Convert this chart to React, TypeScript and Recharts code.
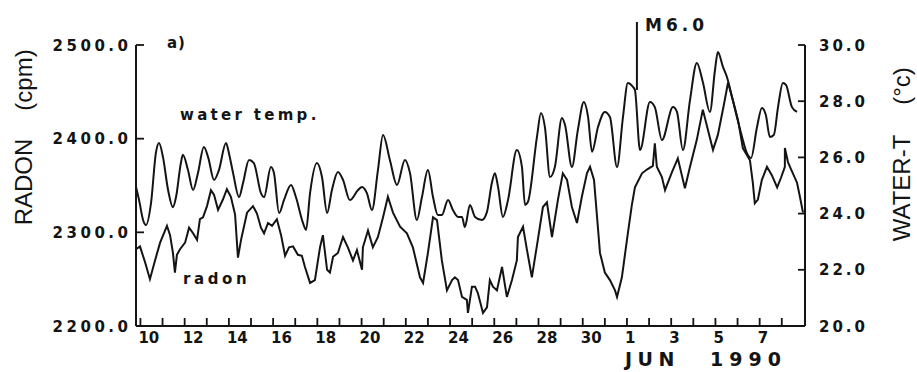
import { LineChart, Line, XAxis, YAxis, ReferenceLine } from 'recharts'

// [day, °C] — days counted from 1 May 1990, so June 1 = 32
const waterTemp: [number, number][] = [
  [9.8, 24.95], [9.94, 24.48], [10.12, 23.77], [10.25, 23.59], [10.48, 24.38], [10.7, 26.16], [10.84, 26.51],
  [11.02, 26.01], [11.25, 24.84], [11.47, 24.23], [11.61, 24.59], [11.83, 25.8], [11.92, 26.09], [12.15, 25.55],
  [12.38, 24.84], [12.6, 25.44], [12.87, 26.37], [13.06, 26.01], [13.33, 25.2], [13.55, 25.55], [13.87, 26.51],
  [14.0, 26.16], [14.19, 25.44], [14.46, 24.59], [14.64, 25.09], [14.91, 25.91], [15.13, 25.8], [15.45, 24.73],
  [15.59, 24.59], [15.9, 25.66], [16.04, 25.44], [16.27, 24.02], [16.49, 24.48], [16.81, 25.02], [17.03, 24.59],
  [17.35, 23.67], [17.49, 23.42], [17.67, 24.73], [17.98, 25.8], [18.21, 25.3], [18.44, 24.02], [18.66, 24.84],
  [18.93, 25.48], [19.16, 25.2], [19.47, 24.48], [19.84, 24.84], [20.02, 24.95], [20.24, 24.73], [20.47, 24.13],
  [20.74, 25.55], [20.97, 26.8], [21.28, 25.91], [21.6, 25.02], [21.96, 25.91], [22.19, 25.44], [22.5, 23.77],
  [22.73, 24.59], [23.0, 25.55], [23.23, 24.59], [23.45, 23.95], [23.63, 23.95], [23.91, 24.48], [24.13, 24.13],
  [24.36, 23.88], [24.54, 23.88], [24.67, 23.52], [24.9, 24.31], [25.13, 23.88], [25.44, 23.77], [25.67, 24.06],
  [25.89, 25.09], [26.03, 25.44], [26.17, 24.95], [26.39, 23.88], [26.62, 24.48], [27.02, 26.26], [27.25, 25.66],
  [27.39, 24.31], [27.52, 24.41], [27.93, 26.73], [28.11, 27.58], [28.29, 27.08], [28.52, 25.3], [28.74, 25.66],
  [29.06, 27.4], [29.2, 27.15], [29.51, 25.66], [29.78, 26.98], [30.05, 27.97], [30.24, 27.44], [30.42, 26.2],
  [30.69, 27.08], [31.0, 27.62], [31.23, 27.44], [31.55, 25.66], [31.82, 27.44], [32.04, 28.65], [32.27, 28.51],
  [32.36, 28.4], [32.59, 26.26], [33.04, 27.97], [33.26, 27.79], [33.58, 26.62], [34.08, 27.79], [34.26, 27.62],
  [34.53, 26.26], [34.85, 28.04], [35.16, 29.36], [35.43, 28.68], [35.75, 27.62], [35.98, 29.11], [36.11, 29.75],
  [36.34, 29.22], [36.52, 28.86], [36.75, 28.15], [36.97, 27.44], [37.24, 26.62], [37.42, 26.16], [37.61, 25.98],
  [37.88, 27.08], [38.1, 27.76], [38.28, 27.51], [38.46, 26.73], [38.64, 26.8], [38.83, 27.79], [39.05, 28.65],
  [39.19, 28.58], [39.46, 27.79], [39.69, 27.62],
]

// [day, cpm]
const radon: [number, number][] = [
  [9.8, 2282], [9.98, 2285], [10.21, 2268], [10.43, 2250], [10.66, 2270], [10.89, 2289], [11.2, 2307], [11.34, 2297],
  [11.47, 2278], [11.56, 2257], [11.65, 2276], [11.79, 2282], [12.02, 2289], [12.2, 2305], [12.38, 2299], [12.56, 2292],
  [12.69, 2314], [12.83, 2316], [13.01, 2328], [13.19, 2345], [13.33, 2340], [13.51, 2324], [13.73, 2335], [13.91, 2346],
  [14.09, 2338], [14.28, 2319], [14.41, 2273], [14.55, 2292], [14.82, 2321], [15.09, 2328], [15.27, 2320], [15.45, 2305],
  [15.59, 2299], [15.77, 2310], [15.95, 2307], [16.17, 2314], [16.36, 2297], [16.54, 2275], [16.72, 2284], [16.9, 2285],
  [17.12, 2276], [17.3, 2275], [17.44, 2263], [17.67, 2246], [17.89, 2249], [18.12, 2284], [18.25, 2297], [18.44, 2260],
  [18.57, 2257], [18.71, 2274], [18.93, 2278], [19.16, 2295], [19.38, 2284], [19.61, 2270], [19.79, 2281], [20.02, 2260],
  [20.06, 2284], [20.29, 2302], [20.51, 2284], [20.74, 2295], [20.97, 2316], [21.19, 2338], [21.42, 2321], [21.74, 2306],
  [22.05, 2299], [22.32, 2284], [22.64, 2252], [22.78, 2246], [23.0, 2278], [23.23, 2316], [23.41, 2313], [23.63, 2270],
  [23.86, 2238], [24.09, 2249], [24.22, 2252], [24.36, 2249], [24.54, 2231], [24.76, 2228], [24.81, 2214], [24.99, 2242],
  [25.13, 2242], [25.26, 2235], [25.49, 2214], [25.67, 2220], [25.8, 2249], [25.94, 2242], [26.12, 2238], [26.35, 2263],
  [26.57, 2231], [26.8, 2249], [27.02, 2270], [27.07, 2295], [27.3, 2306], [27.48, 2281], [27.7, 2252], [27.97, 2292],
  [28.2, 2327], [28.38, 2332], [28.61, 2295], [28.88, 2335], [29.1, 2363], [29.29, 2356], [29.51, 2327], [29.74, 2310],
  [29.96, 2338], [30.19, 2363], [30.33, 2370], [30.51, 2356], [30.78, 2278], [31.0, 2257], [31.23, 2249], [31.46, 2238],
  [31.55, 2231], [31.77, 2252], [32.04, 2299], [32.22, 2329], [32.36, 2348], [32.68, 2363], [32.9, 2367], [33.17, 2371],
  [33.26, 2395], [33.35, 2370], [33.58, 2359], [33.72, 2345], [34.03, 2364], [34.3, 2379], [34.62, 2347], [34.85, 2370],
  [35.16, 2399], [35.43, 2431], [35.75, 2401], [35.89, 2388], [36.11, 2404], [36.38, 2436], [36.57, 2460], [36.79, 2441],
  [37.02, 2420], [37.24, 2390], [37.56, 2377], [37.69, 2353], [37.78, 2331], [37.92, 2335], [38.1, 2356], [38.33, 2370],
  [38.55, 2361], [38.79, 2348], [38.96, 2358], [39.14, 2370], [39.14, 2390], [39.28, 2375], [39.37, 2370], [39.69, 2353],
  [39.82, 2338], [39.96, 2321],
]

const dayTicks = [10, 11, 12, 13, 14, 15, 16, 17, 18, 19, 20, 21, 22, 23, 24, 25, 26, 27, 28, 29, 30, 31, 32, 33, 34, 35, 36, 37, 38, 39]
const labelledDays = [10, 12, 14, 16, 18, 20, 22, 24, 26, 28, 30, 32, 34, 36, 38]
const radonTicks = [2200, 2300, 2400, 2500]
const tempTicks = [20, 22, 24, 26, 28, 30]

// M6.0 earthquake marker, drawn up from the water temp curve
const quakeDay = 32.45
const quakeFrom = 28.4
const quakeTo = 30.82

const ink = '#141414'
const numFont = '"DejaVu Sans", sans-serif'
const titleFont = '"Liberation Sans", Arial, sans-serif'

const tempData = waterTemp.map(([t, v]) => ({ t, v }))
const radonData = radon.map(([t, v]) => ({ t, v }))

function DayTick({ x, y, payload }: any) {
  const d = payload.value
  const show = labelledDays.includes(d)
  return (
    <g>
      <line x1={x} y1={y} x2={x} y2={y - 8} stroke={ink} strokeWidth={1.8} />
      {show && (
        <text x={x - 2} y={y + 17} fontFamily={numFont} fontWeight="bold" fontSize={15} fill={ink}>
          {d > 31 ? d - 31 : d}
        </text>
      )}
    </g>
  )
}

function RadonTick({ x, y, payload }: any) {
  return (
    <g>
      <line x1={x} y1={y} x2={x + 8} y2={y} stroke={ink} strokeWidth={1.8} />
      <text x={x - 4.5} y={y + 5.5} textAnchor="end" fontFamily={numFont} fontWeight="bold" fontSize={15} fill={ink} style={{ letterSpacing: 3.5 }}>
        {payload.value.toFixed(1)}
      </text>
    </g>
  )
}

function TempTick({ x, y, payload }: any) {
  return (
    <g>
      <line x1={x - 7} y1={y} x2={x} y2={y} stroke={ink} strokeWidth={1.8} />
      <text x={x + 14} y={y + 5.5} fontFamily={numFont} fontWeight="bold" fontSize={15} fill={ink} style={{ letterSpacing: 3 }}>
        {payload.value.toFixed(1)}
      </text>
    </g>
  )
}

export default function App() {
  return (
    <div style={{ position: 'absolute', left: 0, top: 0, width: 917, height: 372, background: '#fff' }}>
      <LineChart width={917} height={372} margin={{ top: 45, right: 32, bottom: 16, left: 56 }}>
        <XAxis
          type="number"
          dataKey="t"
          domain={[9.8, 40.05]}
          ticks={dayTicks}
          interval={0}
          height={30}
          tickSize={0}
          tickMargin={0}
          axisLine={{ stroke: ink, strokeWidth: 2 }}
          tick={(p: any) => <DayTick {...p} />}
        />
        <YAxis
          yAxisId="radon"
          orientation="left"
          domain={[2200, 2500]}
          ticks={radonTicks}
          width={80}
          tickSize={0}
          tickMargin={0}
          axisLine={{ stroke: ink, strokeWidth: 2 }}
          tick={(p: any) => <RadonTick {...p} />}
        />
        <YAxis
          yAxisId="temp"
          orientation="right"
          domain={[20, 30]}
          ticks={tempTicks}
          width={80}
          tickSize={0}
          tickMargin={0}
          axisLine={{ stroke: ink, strokeWidth: 2 }}
          tick={(p: any) => <TempTick {...p} />}
        />
        <Line yAxisId="temp" data={tempData} dataKey="v" type="monotone" stroke={ink} strokeWidth={2} dot={false} isAnimationActive={false} />
        <Line yAxisId="radon" data={radonData} dataKey="v" type="linear" stroke={ink} strokeWidth={2} dot={false} isAnimationActive={false} />
        <ReferenceLine
          yAxisId="temp"
          segment={[{ x: quakeDay, y: quakeFrom }, { x: quakeDay, y: quakeTo }]}
          stroke={ink}
          strokeWidth={2}
          ifOverflow="visible"
        />
      </LineChart>
      <svg width={917} height={372} style={{ position: 'absolute', left: 0, top: 0, pointerEvents: 'none' }}>
        <g fontFamily={numFont} fontWeight="bold" fill={ink}>
          <text x={167} y={48} fontSize={15} style={{ letterSpacing: 1 }}>a)</text>
          <text x={180} y={120} fontSize={15} style={{ letterSpacing: 3.3 }}>water temp.</text>
          <text x={183} y={284} fontSize={15} style={{ letterSpacing: 3.6 }}>radon</text>
          <text x={645} y={31} fontSize={17} style={{ letterSpacing: 4 }}>M6.0</text>
          <text x={625} y={366} fontSize={19} style={{ letterSpacing: 5.5 }}>JUN</text>
          <text x={710} y={366} fontSize={19} style={{ letterSpacing: 6 }}>1990</text>
        </g>
        <g fontFamily={titleFont} fontSize={24} fill={ink} textAnchor="middle">
          <text x={32} y={182} transform="rotate(-90 32 182)">RADON</text>
          <text x={32} y={80} transform="rotate(-90 32 80)">(cpm)</text>
          <text x={910} y={188} transform="rotate(-90 910 188)">WATER-T</text>
          <text x={910} y={86} transform="rotate(-90 910 86)">(°c)</text>
        </g>
      </svg>
    </div>
  )
}
